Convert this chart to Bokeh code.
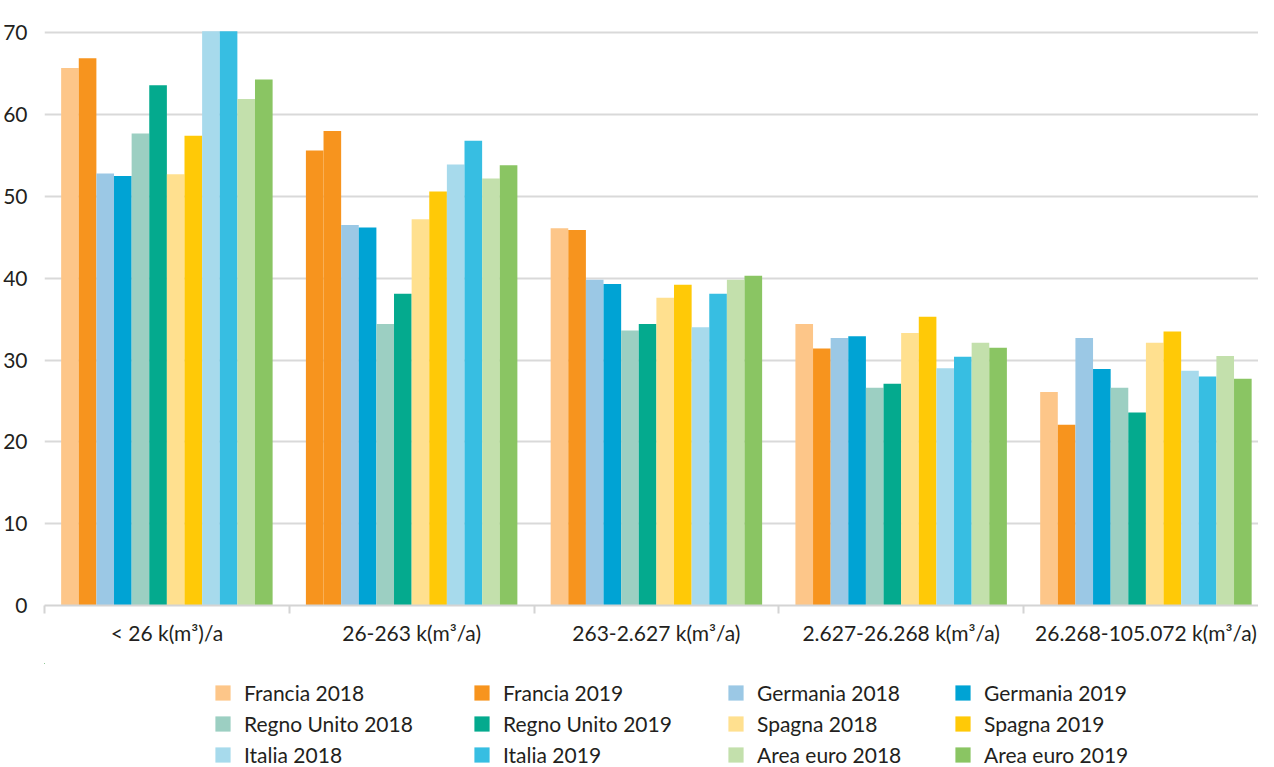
from bokeh.plotting import figure
from bokeh.layouts import column
from bokeh.models import Range1d, FixedTicker, Legend, LegendItem, ColumnDataSource
from bokeh.transform import dodge
from bokeh.embed import file_html
from bokeh.resources import INLINE

categories = ["< 26 k(m³)/a", "26-263 k(m³/a)", "263-2.627 k(m³/a)",
              "2.627-26.268 k(m³/a)", "26.268-105.072 k(m³/a)"]

francia_2018 = [65.7, 55.6, 46.1, 34.4, 26.1]
francia_2019 = [66.9, 58.0, 45.9, 31.4, 22.1]
germania_2018 = [52.8, 46.5, 39.8, 32.7, 32.7]
germania_2019 = [52.5, 46.2, 39.3, 32.9, 28.9]
regno_unito_2018 = [57.7, 34.4, 33.6, 26.6, 26.6]
regno_unito_2019 = [63.6, 38.1, 34.4, 27.1, 23.6]
spagna_2018 = [52.7, 47.2, 37.6, 33.3, 32.1]
spagna_2019 = [57.4, 50.6, 39.2, 35.3, 33.5]
italia_2018 = [70.2, 53.9, 34.0, 29.0, 28.7]
italia_2019 = [70.2, 56.8, 38.1, 30.4, 28.0]
area_euro_2018 = [61.9, 52.2, 39.8, 32.1, 30.5]
area_euro_2019 = [64.3, 53.8, 40.3, 31.5, 27.7]

series_names = ["Francia 2018", "Francia 2019", "Germania 2018", "Germania 2019",
                "Regno Unito 2018", "Regno Unito 2019", "Spagna 2018", "Spagna 2019",
                "Italia 2018", "Italia 2019", "Area euro 2018", "Area euro 2019"]
series_values = [francia_2018, francia_2019, germania_2018, germania_2019,
                 regno_unito_2018, regno_unito_2019, spagna_2018, spagna_2019,
                 italia_2018, italia_2019, area_euro_2018, area_euro_2019]
series_colors = ["#FDC689", "#F7941E", "#9BC8E5", "#00A3D4",
                 "#9CCFC2", "#04AA8E", "#FFE08F", "#FFC907",
                 "#A7DAEC", "#37BEE2", "#C3E0AC", "#8AC563"]
# in the original, the 2018 France bar of the second class is drawn in the 2019 colour
francia_2018_bar_colors = ["#FDC689", "#F7941E", "#FDC689", "#FDC689", "#FDC689"]

FONT = "Lato"
TXT = "#231f20"

# ---------------- main chart ----------------
p = figure(width=1258, height=663, x_range=Range1d(0, 4.96), y_range=Range1d(0, 70.4),
           output_backend="svg", toolbar_location=None,
           min_border_left=38, min_border_right=0, min_border_top=29, min_border_bottom=58)
p.outline_line_color = None
p.background_fill_color = "white"
p.border_fill_color = "white"

centers = [i + 0.5 for i in range(len(categories))]
bar_w = 0.072
n = len(series_names)
for j, (name, vals, col) in enumerate(zip(series_names, series_values, series_colors)):
    cols = francia_2018_bar_colors if j == 0 else [col] * len(vals)
    src = ColumnDataSource(dict(x=centers, top=vals, color=cols))
    off = (j - (n - 1) / 2) * bar_w
    p.vbar(x=dodge("x", off), top="top", width=bar_w, bottom=0, source=src,
           fill_color="color", line_color=None)

# x axis
p.xaxis.ticker = FixedTicker(ticks=centers, minor_ticks=[0, 1, 2, 3, 4, 5])
p.xaxis.major_label_overrides = {c: lab for c, lab in zip(centers, categories)}
p.xaxis.major_tick_line_color = None
p.xaxis.major_tick_out = 0
p.xaxis.major_tick_in = 0
p.xaxis.minor_tick_out = 8
p.xaxis.minor_tick_in = 0
p.xaxis.minor_tick_line_color = "#d4d4d4"
p.xaxis.minor_tick_line_width = 2
p.xaxis.axis_line_color = "#d4d4d4"
p.xaxis.axis_line_width = 2
p.xaxis.major_label_text_font = FONT
p.xaxis.major_label_text_font_size = "21px"
p.xaxis.major_label_text_color = TXT
p.xaxis.major_label_standoff = 6

# y axis
p.yaxis.ticker = FixedTicker(ticks=[0, 10, 20, 30, 40, 50, 60, 70])
p.yaxis.axis_line_color = None
p.yaxis.major_tick_line_color = None
p.yaxis.minor_tick_line_color = None
p.yaxis.major_label_text_font = FONT
p.yaxis.major_label_text_font_size = "21px"
p.yaxis.major_label_text_color = TXT
p.yaxis.major_label_standoff = 11

p.xgrid.grid_line_color = None
p.ygrid.grid_line_color = "#d9d9d9"
p.ygrid.grid_line_width = 2

# ---------------- legend strip ----------------
# the swatch renderers hold the series but lie entirely outside this strip's visible ranges
lg = figure(width=1258, height=104, x_range=Range1d(100, 101), y_range=Range1d(-2, -1),
            output_backend="svg", toolbar_location=None,
            x_axis_type=None, y_axis_type=None,
            min_border_left=0, min_border_right=0, min_border_top=0, min_border_bottom=0)
lg.outline_line_color = None
lg.xgrid.visible = False
lg.ygrid.visible = False
items = []
for name, vals, col in zip(series_names, series_values, series_colors):
    r = lg.vbar(x=centers, top=vals, bottom=0, width=bar_w, fill_color=col, line_color=None)
    items.append(LegendItem(label=name, renderers=[r]))

legend_columns_x = [169, 428, 682, 909]
for c, lx in enumerate(legend_columns_x):
    legend = Legend(items=items[c::4], orientation="vertical",
                    location=(lx, 0), margin=0, padding=0, spacing=6,
                    glyph_width=19, glyph_height=19, label_standoff=12,
                    label_height=25,
                    label_text_font=FONT, label_text_font_size="21px",
                    label_text_color=TXT, border_line_color=None,
                    background_fill_alpha=0)
    lg.add_layout(legend, "center")

layout = column(p, lg, spacing=0)
open("out.html", "w").write(file_html(layout, INLINE))
